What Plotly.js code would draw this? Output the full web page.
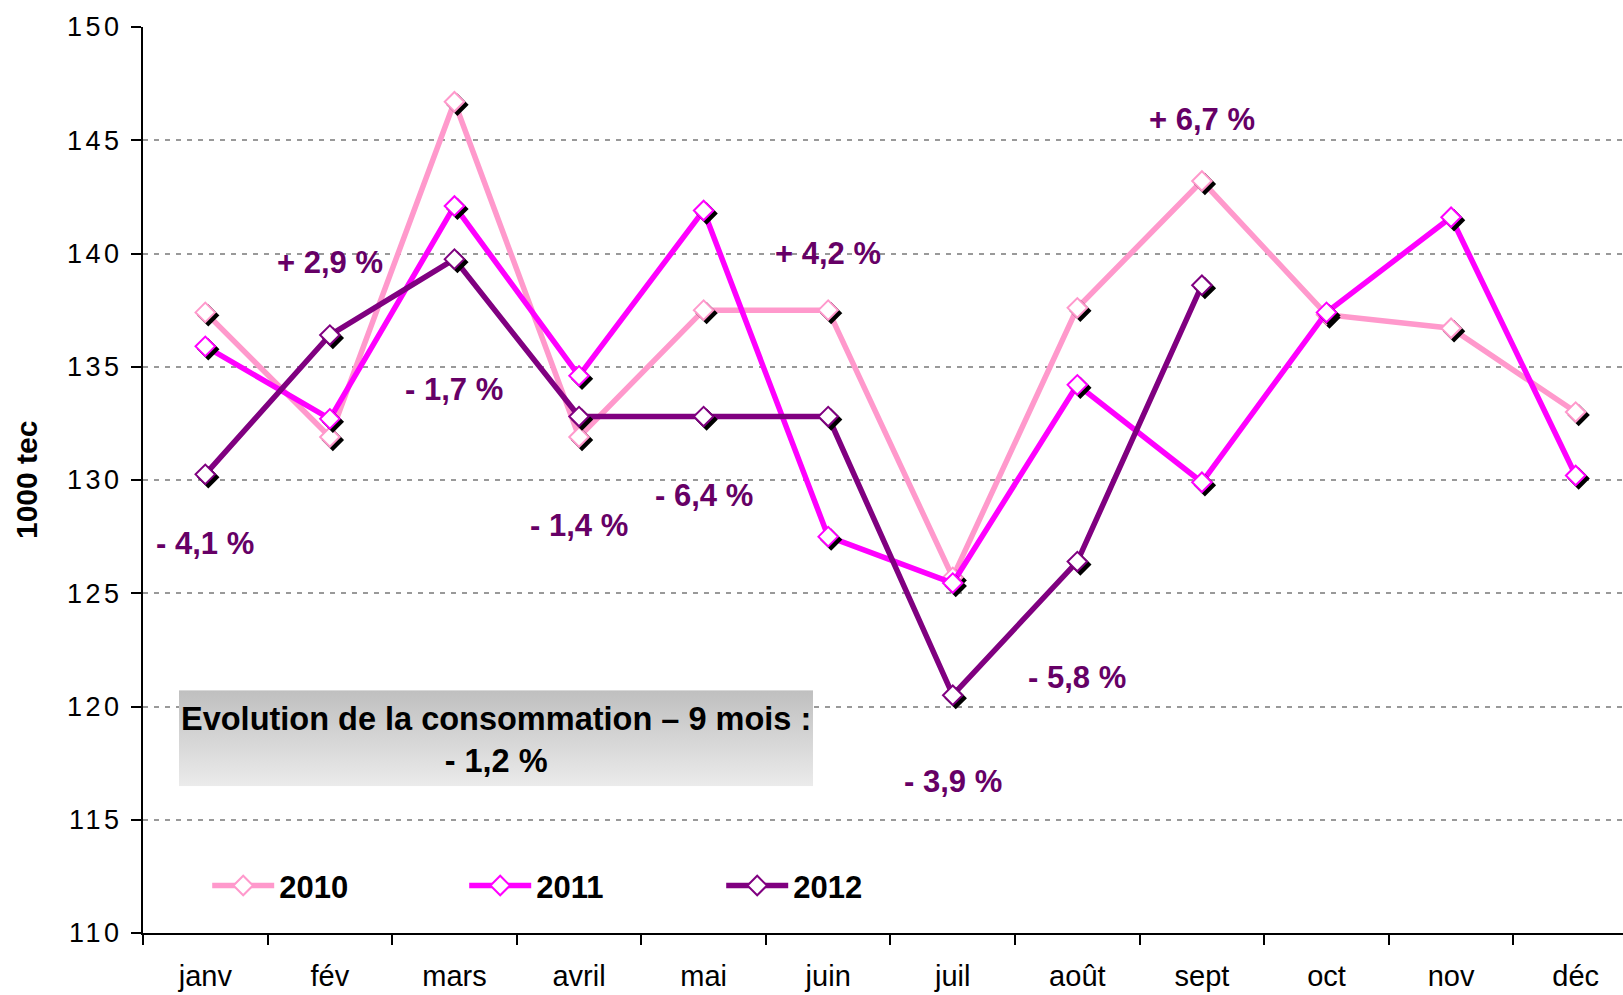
<!DOCTYPE html>
<html>
<head>
<meta charset="utf-8">
<script src="https://cdn.plot.ly/plotly-3.0.1.min.js"></script>
<style>
  html, body { margin: 0; padding: 0; background: #fff; }
  #chart { width: 1623px; height: 995px; }
  .js-plotly-plot .scatterlayer .points path { filter: drop-shadow(3px 3px 0px #000); }
  .js-plotly-plot .ytick text { letter-spacing: 3.5px; }
</style>
</head>
<body>
<div id="chart"></div>
<script>
// ---- data ----
const months = ["janv", "fév", "mars", "avril", "mai", "juin", "juil", "août", "sept", "oct", "nov", "déc"];
const values2010 = [137.4, 131.9, 146.7, 131.9, 137.5, 137.5, 125.7, 137.6, 143.2, 137.3, 136.7, 133.0];
const values2011 = [135.9, 132.7, 142.1, 134.6, 141.9, 127.5, 125.45, 134.2, 129.9, 137.4, 141.6, 130.2];
const values2012 = [130.25, 136.4, 139.75, 132.8, 132.8, 132.8, 120.5, 126.4, 138.6];
const evolutionLabels = ["- 4,1 %", "+ 2,9 %", "- 1,7 %", "- 1,4 %", "- 6,4 %", "+ 4,2 %", "- 3,9 %", "- 5,8 %", "+ 6,7 %"];
const summaryText = "Evolution de la consommation – 9 mois :<br>- 1,2 %";

// ---- layout helpers (label positions) ----
const labelY = [127.2, 139.6, 134.0, 128.0, 129.3, 140.0, 116.7, 121.3, 145.9];
const labelX = [0, 1, 2, 3, 4, 5, 6, 7, 8];

const arial = "'Liberation Sans', Arial, sans-serif";

function series(name, ys, color) {
  return {
    type: "scatter", mode: "lines+markers", name: name,
    x: months.slice(0, ys.length), y: ys,
    line: { color: color, width: 5.5 },
    marker: { symbol: "diamond", size: 15, color: "#ffffff", line: { color: color, width: 2 } }
  };
}

const traces = [
  series("2010", values2010, "#FF99CC"),
  series("2011", values2011, "#FF00FF"),
  series("2012", values2012, "#800080")
];

const annotations = evolutionLabels.map((t, i) => ({
  x: months[labelX[i]], y: labelY[i], xref: "x", yref: "y",
  text: "<b>" + t + "</b>", showarrow: false, xanchor: "center", yanchor: "middle",
  font: { family: arial, size: 31, color: "#660066" }
}));

annotations.push({
  x: 0.2383, y: 0.213, xref: "paper", yref: "paper", xanchor: "center", yanchor: "middle",
  text: "<b>" + summaryText + "</b>", showarrow: false,
  font: { family: arial, size: 32.5, color: "#000" }, align: "center"
});
annotations.push({
  x: 0, y: 0.5, xref: "paper", yref: "paper", xshift: -117, xanchor: "center", yanchor: "middle",
  text: "<b>1000 tec</b>", textangle: -90, showarrow: false,
  font: { family: arial, size: 30, color: "#000" }
});

const gradSvg = "data:image/svg+xml;utf8," + encodeURIComponent(
  "<svg xmlns='http://www.w3.org/2000/svg' width='100' height='100' preserveAspectRatio='none' viewBox='0 0 100 100'>" +
  "<defs><linearGradient id='g' x1='0' y1='0' x2='0' y2='1'>" +
  "<stop offset='0' stop-color='#BFBFBF'/><stop offset='1' stop-color='#EBEBEB'/></linearGradient></defs>" +
  "<rect width='100' height='100' fill='url(#g)'/></svg>");

const layout = {
  width: 1623, height: 995,
  margin: { l: 143, r: 0, t: 27, b: 62 },
  paper_bgcolor: "#fff", plot_bgcolor: "#fff",
  showlegend: true,
  legend: {
    orientation: "h", x: 0.065, y: 0.052, xanchor: "left", yanchor: "middle",
    font: { family: arial, size: 31, color: "#000", weight: "bold" },
    entrywidth: 212, entrywidthmode: "pixels", bgcolor: "rgba(0,0,0,0)"
  },
  xaxis: {
    type: "category", categoryarray: months, categoryorder: "array",
    range: [-0.5, 11.38],
    showline: true, linecolor: "#000", linewidth: 2,
    ticks: "outside", ticklen: 10, tickcolor: "#000", tickwidth: 1.5,
    tickson: "boundaries",
    showgrid: false, zeroline: false, ticklabelstandoff: 16,
    tickfont: { family: arial, size: 29, color: "#000" }
  },
  yaxis: {
    range: [110, 150], dtick: 5, tick0: 110,
    showline: true, linecolor: "#000", linewidth: 2,
    ticks: "outside", ticklen: 10, tickcolor: "#000", tickwidth: 1.5,
    showgrid: true, gridcolor: "#999999", gridwidth: 2, griddash: "5px,6px",
    zeroline: false, ticklabelstandoff: 3,
    tickfont: { family: arial, size: 27, color: "#000" }
  },
  images: [{
    source: gradSvg, xref: "paper", yref: "paper",
    x: 0.0243, y: 0.268, sizex: 0.4284, sizey: 0.106,
    xanchor: "left", yanchor: "top", sizing: "stretch", layer: "above"
  }],
  annotations: annotations
};

Plotly.newPlot("chart", traces, layout, { displayModeBar: false, responsive: false }).then(gd => {
  // lengthen legend line samples and center the marker on them
  gd.querySelectorAll(".legend [clip-path]").forEach(e => e.removeAttribute("clip-path"));
  gd.querySelectorAll(".legend .traces").forEach(tr => {
    tr.querySelectorAll(".legendlines path").forEach(p => p.setAttribute("d", "M-27,0h62"));
    tr.querySelectorAll(".legendsymbols path.scatterpts").forEach(p => p.setAttribute("transform", "translate(4,0)"));
  });
});
</script>
</body>
</html>
